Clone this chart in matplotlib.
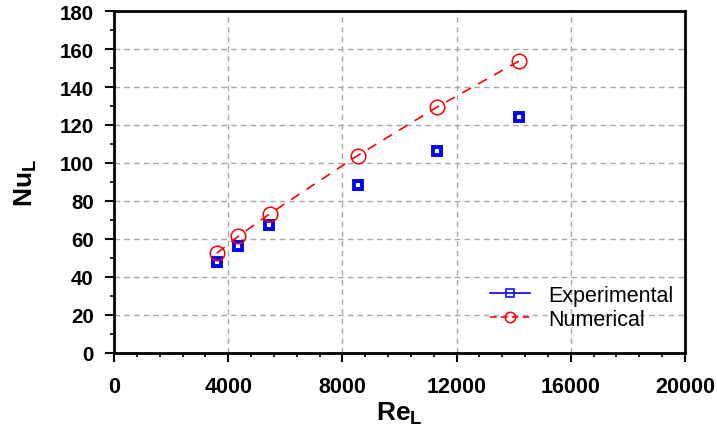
import matplotlib as mpl
mpl.use('Agg')
import matplotlib.pyplot as plt
from matplotlib.lines import Line2D
from matplotlib.ticker import MultipleLocator

plt.rcParams['font.family'] = ['Liberation Sans', 'DejaVu Sans']
plt.rcParams['mathtext.fontset'] = 'custom'
plt.rcParams['mathtext.rm'] = 'Liberation Sans'
plt.rcParams['mathtext.bf'] = 'Liberation Sans:bold'
plt.rcParams['mathtext.it'] = 'Liberation Sans:italic'

# dados
re_exp = [3600, 4360, 5440, 8530, 11300, 14200]
nu_exp = [47.7, 56.1, 67.4, 88.4, 106.5, 124.0]
re_num = [3600, 4350, 5450, 8530, 11300, 14200]
nu_num = [52.5, 61.4, 73.2, 103.9, 129.3, 153.8]

fig = plt.figure(figsize=(7.17, 4.35), dpi=100)
ax = fig.add_axes([114/717, 1 - 354/435, (685-114)/717, (354-12)/435])

ax.plot(re_exp, nu_exp, ls='none', marker='s', ms=6.2, mew=2.8,
        mec='#0000ff', mfc='white', zorder=3)
ax.plot(re_num, nu_num, ls=(0, (6, 5)), lw=1.2, color='#ff0000', marker='o',
        ms=10.5, mew=1.1, mec='#ff0000', mfc='none', zorder=4)

ax.set_xlim(0, 20000)
ax.set_ylim(0, 180)
ax.xaxis.set_major_locator(MultipleLocator(4000))
ax.xaxis.set_minor_locator(MultipleLocator(800))
ax.yaxis.set_major_locator(MultipleLocator(20))
ax.yaxis.set_minor_locator(MultipleLocator(10))
ax.grid(True, which='major', ls=(0, (4, 3)), color='#a8a8a8', lw=1)
ax.set_axisbelow(True)

for s in ax.spines.values():
    s.set_linewidth(2)
ax.tick_params(which='major', direction='out', length=6.5, width=1.5)
ax.tick_params(axis='x', which='major', pad=10, labelsize=15.5)
ax.tick_params(axis='y', which='major', pad=8, labelsize=14.8)
ax.tick_params(which='minor', direction='out', length=3, width=1.2)
for lab in ax.get_xticklabels() + ax.get_yticklabels():
    lab.set_fontweight('bold')

ax.set_xlabel(r'$\mathbf{Re_L}$', fontsize=19, labelpad=2)
ax.set_ylabel(r'$\mathbf{Nu_L}$', fontsize=19, labelpad=15)

h1 = Line2D([], [], color='#0000ff', lw=1.2, marker='s', ms=5.5, mfc='none', mec='#0000ff', mew=1.1)
h2 = Line2D([], [], color='#ff0000', lw=1.2, ls=(0, (4, 2.5)), marker='o', ms=7.5, mfc='none', mec='#ff0000', mew=1.1)
ax.legend([h1, h2], ['Experimental', 'Numerical'], loc='upper left', frameon=False,
          fontsize=15.5, handlelength=1.86, handletextpad=0.84, borderpad=0,
          borderaxespad=0, labelspacing=0.15, bbox_to_anchor=(0.658, 0.2))

fig.savefig('out.png', dpi=100)
